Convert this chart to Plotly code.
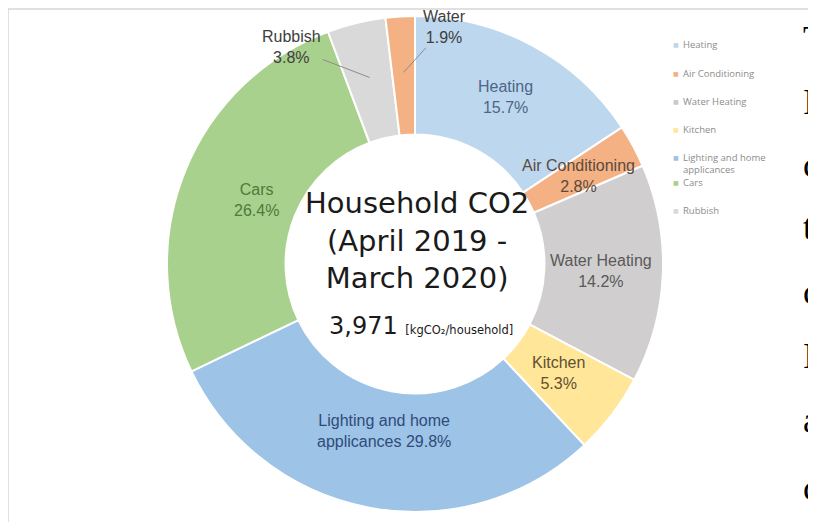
import math
import plotly.graph_objects as go

# ---------------- data ----------------
categories = ["Heating", "Air Conditioning", "Water Heating", "Kitchen",
              "Lighting and home applicances", "Cars", "Rubbish", "Water"]
shares = [15.7, 2.8, 14.2, 5.3, 29.8, 26.4, 3.8, 1.9]
label_text = ["Heating", "Air Conditioning", "Water Heating", "Kitchen",
              "Lighting and home<br>applicances", "Cars", "Rubbish", "Water"]
legend_items = ["Heating", "Air Conditioning", "Water Heating", "Kitchen",
                "Lighting and home<br>applicances", "Cars", "Rubbish"]
total_co2 = "3,971"
unit_text = "[kgCO₂/household]"
center_title = ["Household CO2", "(April 2019 -", "March 2020)"]
edge_chars = ["T", "I", "c", "t", "c", "I", "a", "c"]

# ---------------- styles ----------------
OFF = 8                      # page body margin
W, H = 816 - OFF, 522 - OFF  # figure size
slice_colors = ["#BDD7EE", "#F4B183", "#D0CECE", "#FFE699",
                "#9DC3E6", "#A9D18E", "#D9D9D9", "#F4B183"]
label_colors = ["#4D6685", "#5B4A3F", "#595959", "#5F5030",
                "#2F4B7A", "#4E7A3A", "#404040", "#404040"]
legend_marker_colors = ["#BDD7EE", "#F4B183", "#C9C9C9", "#FFE699",
                        "#9DC3E6", "#A9D18E", "#D9D9D9"]
CX, CY, R = 415, 264, 248    # page pixels
HOLE = 0.522
label_radius = [190, 186, 186, 180, 170, 171, None, None]
outside_tip_r = 192
outside_text_offset = [None] * 6 + [(-78, -30), (41, -45)]
legend_y = [45, 73, 101, 129, 163.5, 182, 211]
edge_y = [39, 102, 165, 227, 292, 356, 420, 488]
LABEL_FONT = "Liberation Sans"


def px(x):
    return (x - OFF) / W


def py(y):
    return 1 - (y - OFF) / H


fig = go.Figure()
fig.add_trace(go.Pie(
    labels=categories,
    values=shares,
    sort=False,
    direction="clockwise",
    rotation=0,
    hole=HOLE,
    textinfo="none",
    showlegend=False,
    marker=dict(colors=slice_colors, line=dict(color="white", width=2)),
    domain=dict(x=[px(CX - R), px(CX + R)], y=[py(CY + R), py(CY - R)]),
))

annotations = []
tot = sum(shares)
cum = 0.0
for i, v in enumerate(shares):
    mid = (cum + v / 2) / tot * 2 * math.pi
    cum += v
    sep = " " if "<br>" in label_text[i] else "<br>"
    txt = f"{label_text[i]}{sep}{v:.1f}%"
    if label_radius[i] is not None:
        r = label_radius[i]
        x = CX + r * math.sin(mid)
        y = CY - r * math.cos(mid)
        annotations.append(dict(
            x=px(x), y=py(y), xref="paper", yref="paper", text=txt,
            showarrow=False, xanchor="center", yanchor="middle",
            font=dict(family=LABEL_FONT, size=16, color=label_colors[i]),
        ))
    else:
        x = CX + outside_tip_r * math.sin(mid)
        y = CY - outside_tip_r * math.cos(mid)
        ax, ay = outside_text_offset[i]
        annotations.append(dict(
            x=px(x), y=py(y), xref="paper", yref="paper", text=txt,
            showarrow=True, arrowhead=0, arrowwidth=1, arrowcolor="#8C8C8C",
            ax=ax, ay=ay, standoff=0,
            font=dict(family=LABEL_FONT, size=16, color=label_colors[i]),
        ))

# center text
annotations.append(dict(
    x=px(CX + 2), y=py(241), xref="paper", yref="paper",
    text="<br>".join(center_title), showarrow=False,
    xanchor="center", yanchor="middle",
    font=dict(family="DejaVu Sans", size=29, color="#1A1A1A"),
))
annotations.append(dict(
    x=px(CX + 6), y=py(326), xref="paper", yref="paper",
    text=f"{total_co2} <span style='font-size:11.5px'>{unit_text}</span>",
    showarrow=False, xanchor="center", yanchor="middle",
    font=dict(family="DejaVu Sans", size=24, color="#1A1A1A"),
))

# legend
for name, col, yy in zip(legend_items, legend_marker_colors, legend_y):
    first_y = yy - 6.5 if "<br>" in name else yy
    annotations.append(dict(
        x=px(676), y=py(first_y), xref="paper", yref="paper", text="■",
        showarrow=False, xanchor="center", yanchor="middle",
        font=dict(family="DejaVu Sans", size=6, color=col),
    ))
    annotations.append(dict(
        x=px(681), y=py(yy), xref="paper", yref="paper", text=name,
        showarrow=False, xanchor="left", yanchor="middle", align="left",
        font=dict(family="Open Sans", size=9.5, color="#8C8C8C"),
    ))

# clipped page text at the right edge
for ch, yy in zip(edge_chars, edge_y):
    annotations.append(dict(
        x=px(801), y=py(yy), xref="paper", yref="paper", text=ch,
        showarrow=False, xanchor="left", yanchor="middle",
        font=dict(family="Liberation Serif", size=36, color="#000000"),
    ))

shapes = [
    dict(type="line", xref="paper", yref="paper", x0=px(7), x1=1,
         y0=py(9), y1=py(9), line=dict(color="#D6D6D6", width=1.5)),
    dict(type="line", xref="paper", yref="paper", x0=px(8), x1=px(8),
         y0=py(9), y1=0, line=dict(color="#D6D6D6", width=1.5)),
]

fig.update_layout(
    width=W, height=H,
    margin=dict(l=0, r=0, t=0, b=0),
    paper_bgcolor="white", plot_bgcolor="white",
    annotations=annotations, shapes=shapes,
)

fig.write_html("out.html")
